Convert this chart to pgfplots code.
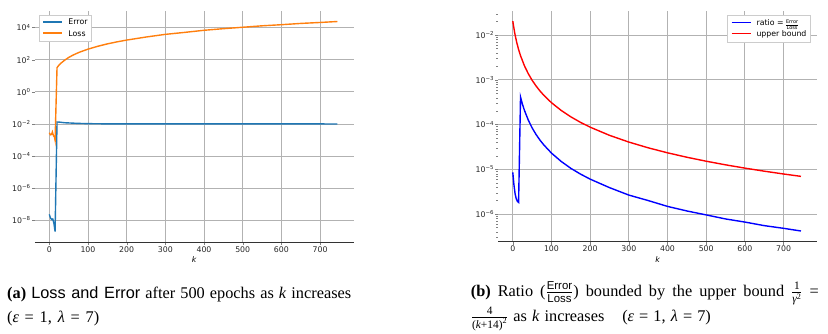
\documentclass[border=0pt]{standalone}
\usepackage{fontspec}
\setmainfont{Liberation Serif}
\setsansfont{Liberation Sans}
\newfontfamily\mpl{DejaVu Sans}
\usepackage{amsmath}
\usepackage{pgfplots}
\pgfplotsset{compat=1.18}
\usepackage{pgfplotstable}

\definecolor{mplblue}{HTML}{1F77B4}
\definecolor{mplorange}{HTML}{FF7F0E}

% 10^n tick labels in the text font
\newcommand\logtick{\pgfmathtruncatemacro\ee{round(\tick/2.302585093)}10\textsuperscript{\ifnum\ee<0 −\number-\ee\else\number\ee\fi}}
% legend handle drawn as a coloured rule
\newcommand\handle[1]{{\color{#1}\rule[2.2pt]{19pt}{1.4pt}}\hspace{6pt}}
% small stacked fraction for the legend
\newcommand\smallfrac[2]{\raisebox{-1.6pt}{\fontsize{5}{5}\selectfont\begin{tabular}{@{}c@{}}#1\\[-0.4pt]\hline\rule{0pt}{4.6pt}#2\end{tabular}}}

\pgfplotstableread{
k e
0 2.34e-8
3 1.41e-8
6 1.12e-8
9 1.20e-8
12 6.3e-9
15 2.0e-9
20 1.32e-2
25 1.30e-2
30 1.26e-2
40 1.18e-2
50 1.15e-2
60 1.12e-2
70 1.09e-2
80 1.07e-2
100 1.04e-2
125 1.02e-2
150 1.01e-2
175 1.005e-2
200 1.00e-2
250 1.00e-2
300 1.00e-2
350 1.00e-2
400 1.00e-2
450 0.998e-2
500 0.998e-2
550 0.997e-2
600 0.996e-2
650 0.995e-2
700 0.995e-2
745 0.994e-2
}\errtab

\pgfplotstableread{
k L
0 2.82e-3
3 2.09e-3
6 2.24e-3
8 3.16e-3
11 1.78e-3
13 1.66e-3
15 9.55e-4
20 32.0
25 45.8
30 60.3
40 93.7
50 136.7
60 186
70 241
80 304
100 452
125 680
150 962
175 1287
200 1661
250 2571
300 3774
350 5000
400 6757
450 8530
500 10450
550 12848
600 15068
650 18091
700 20772
745 23837
}\losstab

\pgfplotstableread{
k r
0 8.51e-6
3 4.47e-6
6 2.82e-6
9 2.19e-6
12 1.91e-6
15 1.82e-6
20 4.12e-4
25 2.84e-4
30 2.09e-4
40 1.26e-4
50 8.41e-5
60 6.02e-5
70 4.52e-5
80 3.52e-5
100 2.30e-5
125 1.50e-5
150 1.05e-5
175 7.81e-6
200 6.02e-6
250 3.89e-6
300 2.65e-6
350 2.00e-6
400 1.48e-6
450 1.17e-6
500 9.55e-7
550 7.76e-7
600 6.61e-7
650 5.50e-7
700 4.79e-7
745 4.17e-7
}\ratiotab

\pgfplotstableread{
k u
0 2.041e-2
5 1.108e-2
10 6.944e-3
15 4.756e-3
20 3.460e-3
30 2.066e-3
40 1.372e-3
50 9.766e-4
60 7.305e-4
70 5.669e-4
80 4.527e-4
100 3.078e-4
125 2.070e-4
150 1.487e-4
175 1.120e-4
200 8.734e-5
250 5.739e-5
300 4.057e-5
350 3.019e-5
400 2.334e-5
450 1.858e-5
500 1.514e-5
550 1.257e-5
600 1.061e-5
650 9.072e-6
700 7.846e-6
745 6.943e-6
}\boundtab

\pgfplotsset{mplax/.style={
  scale only axis, width=318.7pt,
  xmin=-37.45, xmax=786.45,
  axis x line*=bottom, axis y line*=left,
  y axis line style={draw=none},
  x axis line style={black!80, line width=0.8pt},
  xtick={0,100,...,700},
  grid=major, major grid style={black!30, line width=0.8pt},
  tick align=outside, major tick length=3pt, minor tick length=2pt,
  /pgf/number format/assume math mode=true,
  ticklabel style={font=\mpl\fontsize{7.8}{9}\selectfont, text=black!85},
  xticklabel style={inner sep=1.5pt},
  yticklabel style={inner sep=1pt},
  yticklabel={\logtick},
  xlabel={\itshape k},
  xlabel style={font=\mpl\fontsize{7.8}{9}\selectfont, at={(axis description cs:0.5,0)}, anchor=center, yshift=-18pt},
  legend style={font=\mpl\fontsize{7.8}{9}\selectfont, draw=black!20,
    fill=white, inner sep=2pt, row sep=0pt},
  legend cell align=left,
}}

\begin{document}
\begin{tikzpicture}[x=1pt,y=1pt]
\path[use as bounding box] (0,0) rectangle (828,333);

\begin{semilogyaxis}[mplax, at={(34.8pt,91pt)}, anchor=south west, height=231pt,
  ymin=4.43e-10, ymax=1.074e5,
  ytick={1e-8,1e-6,1e-4,1e-2,1,1e2,1e4},
  minor tick length=0pt,
  legend style={at={(axis description cs:0.014,0.983)}, anchor=north west}]
\addlegendimage{empty legend}
\addlegendentry{\handle{mplblue}Error}
\addlegendimage{empty legend}
\addlegendentry{\handle{mplorange}Loss}
\addplot[draw=mplblue, line width=1.4pt, forget plot] table[x=k, y=e] {\errtab};
\addplot[draw=mplorange, line width=1.4pt, forget plot] table[x=k, y=L] {\losstab};
\end{semilogyaxis}

\begin{semilogyaxis}[mplax, at={(498.3pt,91.5pt)}, anchor=south west, height=230.8pt,
  ymin=2.43e-7, ymax=3.503e-2,
  ytick={1e-6,1e-5,1e-4,1e-3,1e-2},
  minor ytick={3e-7,4e-7,5e-7,6e-7,7e-7,8e-7,9e-7,
    2e-6,3e-6,4e-6,5e-6,6e-6,7e-6,8e-6,9e-6,
    2e-5,3e-5,4e-5,5e-5,6e-5,7e-5,8e-5,9e-5,
    2e-4,3e-4,4e-4,5e-4,6e-4,7e-4,8e-4,9e-4,
    2e-3,3e-3,4e-3,5e-3,6e-3,7e-3,8e-3,9e-3,
    2e-2,3e-2},
  legend style={at={(axis description cs:0.980,0.981)}, anchor=north east}]
\addlegendimage{empty legend}
\addlegendentry{\handle{blue}ratio = \smallfrac{Error}{Loss}}
\addlegendimage{empty legend}
\addlegendentry{\handle{red}upper bound}
\addplot[draw=blue, line width=1.4pt, forget plot] table[x=k, y=r] {\ratiotab};
\addplot[draw=red, line width=1.4pt, forget plot] table[x=k, y=u] {\boundtab};
\end{semilogyaxis}

\begin{scope}[every node/.style={inner sep=0pt, font=\fontsize{16.3}{19}\selectfont}]
\node[anchor=base west] at (7,34.7)
  {\makebox[344pt][s]{\textbf{(a)} \textsf{Loss and Error} after 500 epochs as \textit{k} increases}};
\node[anchor=base west] at (7,10.3) {\makebox[92pt][s]{(\textit{ε} = 1, \textit{λ} = 7)}};
\node[anchor=base west] at (470.7,36.3)
  {\makebox[348pt][s]{\textbf{(b)} Ratio ($\frac{\text{\sffamily Error}}{\text{\sffamily Loss}}$) bounded by the upper bound $\frac{\text{1}}{\text{\itshape γ}^{\text{2}}}$ =}};
\node[anchor=base west] at (470.7,11.3)
  {\makebox[240pt][s]{$\frac{\text{4}}{\text{(\itshape k\upshape+14)}^{\text{2}}}$ as \textit{k} increases\hspace{1.1em}(\textit{ε} = 1, \textit{λ} = 7)}};
\end{scope}
\end{tikzpicture}
\end{document}
